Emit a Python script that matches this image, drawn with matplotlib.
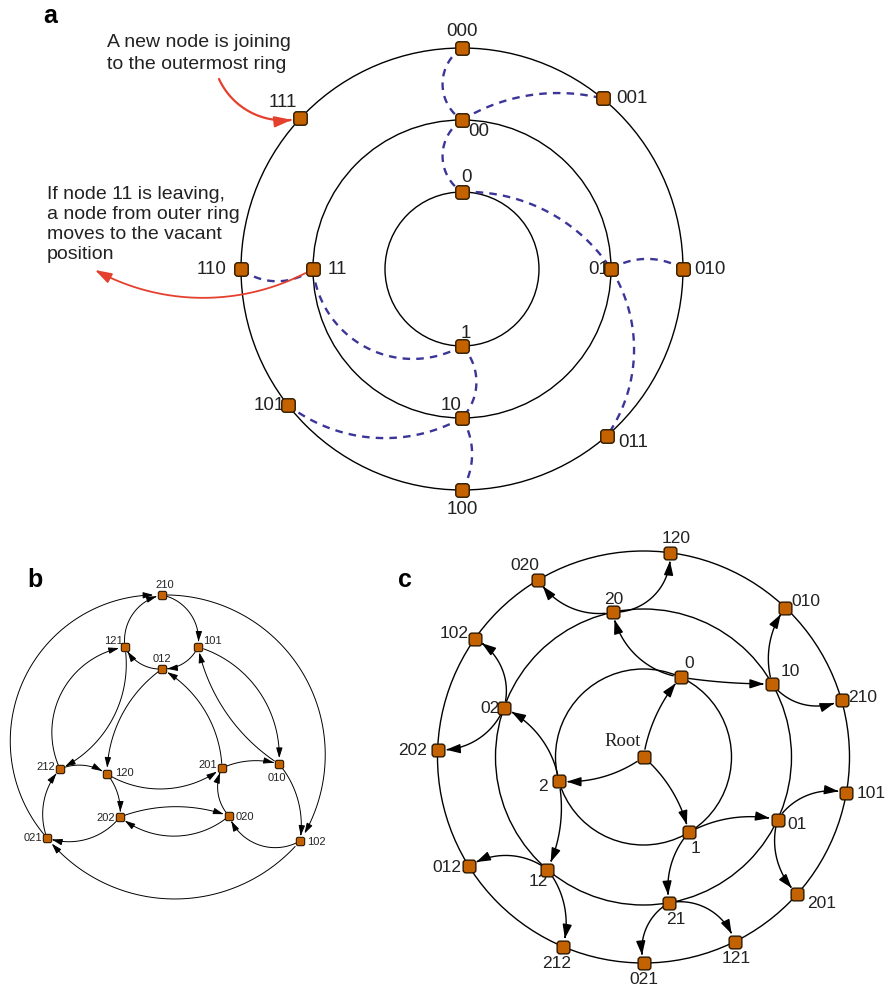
import numpy as np
import matplotlib.pyplot as plt
from matplotlib.patches import FancyArrowPatch, FancyBboxPatch, Circle
from matplotlib.path import Path

plt.rcParams['font.family'] = ['Liberation Sans', 'DejaVu Sans']

W, H = 891, 987

# ---------------- data ----------------
# panel a: ring nodes, angle in degrees on their ring (ring = label length)
a_nodes = ["0", "1", "00", "01", "10", "11",
           "000", "001", "010", "011", "100", "101", "110", "111"]
a_angles = [90, -90, 90, 0, -90, 180,
            90, 50.5, 0, -49, -90, -142, 180, 137]
a_links = [("000", "00"), ("00", "0"), ("00", "001"), ("0", "01"),
           ("01", "010"), ("01", "011"), ("11", "110"), ("11", "1"),
           ("1", "10"), ("10", "101"), ("10", "100")]
a_note_join = "A new node is joining\nto the outermost ring"
a_note_leave = "If node 11 is leaving,\na node from outer ring\nmoves to the vacant\nposition"

# panel b: Kautz graph nodes (pixel positions in the panel) and directed edges
b_nodes = ["210", "121", "101", "012", "212", "120",
           "201", "010", "202", "020", "021", "102"]
b_x = [162, 125, 198, 162, 60, 107, 222, 279, 120, 229, 47, 300]
b_y = [596, 648, 648, 670, 770, 775, 769, 765, 818, 817, 839, 842]
b_edges = [("121", "210"), ("210", "101"), ("101", "012"), ("012", "121"),
           ("212", "121"), ("121", "212"), ("012", "120"), ("201", "012"),
           ("010", "101"), ("101", "010"), ("212", "120"), ("120", "201"),
           ("201", "010"), ("120", "202"), ("202", "020"), ("020", "202"),
           ("020", "201"), ("102", "020"), ("010", "102"), ("202", "021"),
           ("021", "212"), ("021", "210"), ("210", "102"), ("102", "021")]

# panel c: tree on three rings, angle in degrees; parent = label without first digit
c_nodes = ["0", "1", "2", "20", "10", "02", "12", "01", "21",
           "020", "120", "010", "210", "102", "202", "101", "201",
           "012", "212", "021", "121"]
c_angles = [65, -59, 196, 102, 29.6, 160.6, -130.5, -25, -80,
            120.7, 82.6, 46.5, 16, 145, 178, -10, -41.7,
            -148, -113, -90, -63.7]

# ---------------- styles ----------------
a_bend = [0.27, 0.27, -0.1, -0.13, -0.14, -0.15, -0.17, 0.27, -0.2, -0.15, -0.14]
a_lab = {"0": (4, -16, "center"), "1": (4, -14, "center"), "00": (17, 11, "center"),
         "01": (-2, 0, "right"), "10": (-11, -13, "center"), "11": (15, 0, "left"),
         "000": (0, -18, "center"), "001": (14, -1, "left"), "010": (11, 0, "left"),
         "011": (11, 6, "left"), "100": (0, 18, "center"), "101": (-3, -1, "right"),
         "110": (-14, 0, "right"), "111": (-18, -17, "center")}
b_bend = [-0.2, -0.2, -0.15, -0.15, -0.25, -0.165, 0.12, 0.13, -0.1, -0.175,
          -0.13, 0.155, -0.09, -0.1, -0.09, -0.18, -0.155, -0.23, -0.11, -0.16,
          -0.14, -0.33, -0.3, -0.235]
b_lab = {"210": (3, -11, "center"), "121": (-2, -7, "right"), "101": (5, -7, "left"),
         "012": (0, -11, "center"), "212": (-5, -3, "right"), "120": (8, -2, "left"),
         "202": (-5, 0, "right"), "021": (-5, -1, "right"), "201": (-5, -4, "right"),
         "010": (-2, 13, "center"), "020": (7, 0, "left"), "102": (7, 0, "left")}
c_bend = [-0.07, -0.08, -0.09, -0.16, 0.02, 0.125, -0.08, -0.09, 0.115,
          -0.155, 0.22, -0.12, 0.18, 0.18, -0.16, -0.16, 0.14,
          0.157, -0.12, 0.17, -0.19]
c_lab = {"0": (8, -15, "center"), "1": (7, 15, "center"), "2": (-11, 4, "right"),
         "20": (1, -14, "center"), "10": (8, -13, "left"), "02": (-4, 0, "right"),
         "01": (10, 4, "left"), "12": (-9, 11, "center"), "21": (7, 16, "center"),
         "120": (6, -15, "center"), "020": (-14, -15, "center"), "010": (6, -7, "left"),
         "102": (-6, -6, "right"), "210": (7, -4, "left"), "202": (-11, 0, "right"),
         "101": (10, 0, "left"), "012": (-7, 0, "right"), "201": (10, 8, "left"),
         "212": (-6, 16, "center"), "121": (1, 16, "center"), "021": (0, 15, "center")}

A_C, A_R = (462, 270), [77, 149, 221]
C_C, C_R = (643.5, 758), [88, 148, 206]
ORANGE, EDGE = "#c46200", "#2a1800"
BLUE, RED = "#3b3598", "#e4402e"

box = FancyBboxPatch((-0.5, -0.5), 1, 1, boxstyle="round,pad=0,rounding_size=0.22")
node_marker = box.get_path()


def ring_pos(center, radii, label, ang):
    r = radii[len(label) - 1]
    t = np.radians(ang)
    return center[0] + r * np.cos(t), center[1] - r * np.sin(t)


def arc_points(p0, p1, bend, trim0=0.0, trim1=0.0, n=80):
    # circular arc from p0 to p1, bend = sagitta / chord, positive bulges to the right
    p0, p1 = np.asarray(p0, float), np.asarray(p1, float)
    d = p1 - p0
    L = np.hypot(*d)
    if abs(bend) < 1e-4:
        s = np.linspace(0, 1, n)
        pts = p0 + s[:, None] * d
    else:
        nr = np.array([-d[1], d[0]]) / L
        h = bend * L
        R = (L ** 2 / 4 + h ** 2) / (2 * abs(h))
        cen = (p0 + p1) / 2 - np.sign(h) * nr * (R - abs(h))
        a0 = np.arctan2(p0[1] - cen[1], p0[0] - cen[0])
        a1 = np.arctan2(p1[1] - cen[1], p1[0] - cen[0])
        da = (a1 - a0 + np.pi) % (2 * np.pi) - np.pi
        t = a0 + np.linspace(0, 1, n) * da
        pts = cen + R * np.column_stack([np.cos(t), np.sin(t)])
    keep = (np.hypot(*(pts - p0).T) >= trim0) & (np.hypot(*(pts - p1).T) >= trim1)
    return pts[keep]


def arrow(ax, pts, color, lw, hl, hw, z=3):
    path = Path(pts, [Path.MOVETO] + [Path.LINETO] * (len(pts) - 1))
    ax.add_patch(FancyArrowPatch(path=path, arrowstyle=f"-|>,head_length={hl},head_width={hw}",
                                 mutation_scale=10, color=color, lw=lw, zorder=z))


fig = plt.figure(figsize=(W / 100, H / 100), dpi=100)
ax = fig.add_axes([0, 0, 1, 1])
ax.set_xlim(0, W)
ax.set_ylim(H, 0)
ax.axis("off")

# ---------------- panel a ----------------
a_pos = {lab: ring_pos(A_C, A_R, lab, ang) for lab, ang in zip(a_nodes, a_angles)}
for r in A_R:
    ax.add_patch(Circle(A_C, r, fill=False, lw=1.0, ec="black", zorder=1))
for (u, v), bnd in zip(a_links, a_bend):
    pts = arc_points(a_pos[u], a_pos[v], bnd)
    ax.plot(pts[:, 0], pts[:, 1], color=BLUE, lw=1.7, ls=(0, (3.2, 2.6)), zorder=2)
ax.scatter([a_pos[k][0] for k in a_nodes], [a_pos[k][1] for k in a_nodes], s=94,
           marker=node_marker, c=ORANGE, edgecolors=EDGE, linewidths=1.0, zorder=5)
for k in a_nodes:
    dx, dy, ha = a_lab[k]
    ax.text(a_pos[k][0] + dx, a_pos[k][1] + dy, k, fontsize=13.5, ha=ha, va="center",
            color="#222222", zorder=4)

ax.text(107, 34, a_note_join, fontsize=14, ha="left", va="top", linespacing=1.4, color="#222222")
ax.text(47, 186, a_note_leave, fontsize=14, ha="left", va="top", linespacing=1.22, color="#222222")
arrow(ax, arc_points((219, 80), a_pos["111"], 0.18, 0, 8), RED, 1.6, 1.0, 0.32, z=6)
arrow(ax, arc_points(a_pos["11"], (95, 271), -0.13, 6, 0), RED, 1.3, 1.0, 0.32, z=6)
ax.text(43, 16, "a", fontsize=18, fontweight="bold", ha="left", va="center")

# ---------------- panel b ----------------
b_pos = {k: (x, y) for k, x, y in zip(b_nodes, b_x, b_y)}
for (u, v), bnd in zip(b_edges, b_bend):
    pts = arc_points(b_pos[u], b_pos[v], bnd, 4, 5)
    arrow(ax, pts, "black", 0.7, 0.62, 0.19)
ax.scatter(b_x, b_y, s=36, marker=node_marker, c=ORANGE, edgecolors=EDGE,
           linewidths=0.8, zorder=5)
for k in b_nodes:
    dx, dy, ha = b_lab[k]
    ax.text(b_pos[k][0] + dx, b_pos[k][1] + dy, k, fontsize=8, ha=ha, va="center",
            color="#222222", zorder=4)
ax.text(27, 580, "b", fontsize=18, fontweight="bold", ha="left", va="center")

# ---------------- panel c ----------------
c_pos = {k: ring_pos(C_C, C_R, k, a) for k, a in zip(c_nodes, c_angles)}
c_pos["Root"] = C_C
for r in C_R:
    ax.add_patch(Circle(C_C, r, fill=False, lw=1.0, ec="black", zorder=1))
for k, bnd in zip(c_nodes, c_bend):
    parent = k[1:] if len(k) > 1 else "Root"
    pts = arc_points(c_pos[parent], c_pos[k], bnd, 7, 7.5)
    arrow(ax, pts, "black", 1.0, 0.85, 0.28)
cx = [c_pos[k][0] for k in ["Root"] + c_nodes]
cy = [c_pos[k][1] for k in ["Root"] + c_nodes]
ax.scatter(cx, cy, s=84, marker=node_marker, c=ORANGE, edgecolors=EDGE, linewidths=1.0, zorder=5)
for k in c_nodes:
    dx, dy, ha = c_lab[k]
    ax.text(c_pos[k][0] + dx, c_pos[k][1] + dy, k, fontsize=12.5, ha=ha, va="center",
            color="#222222", zorder=4)
ax.text(C_C[0] - 21, C_C[1] - 17, "Root", fontsize=13.5, family=["Liberation Serif", "DejaVu Serif"],
        ha="center", va="center", color="#222222", zorder=4)
ax.text(398, 580, "c", fontsize=18, fontweight="bold", ha="left", va="center")

fig.savefig("out.png", dpi=100)
